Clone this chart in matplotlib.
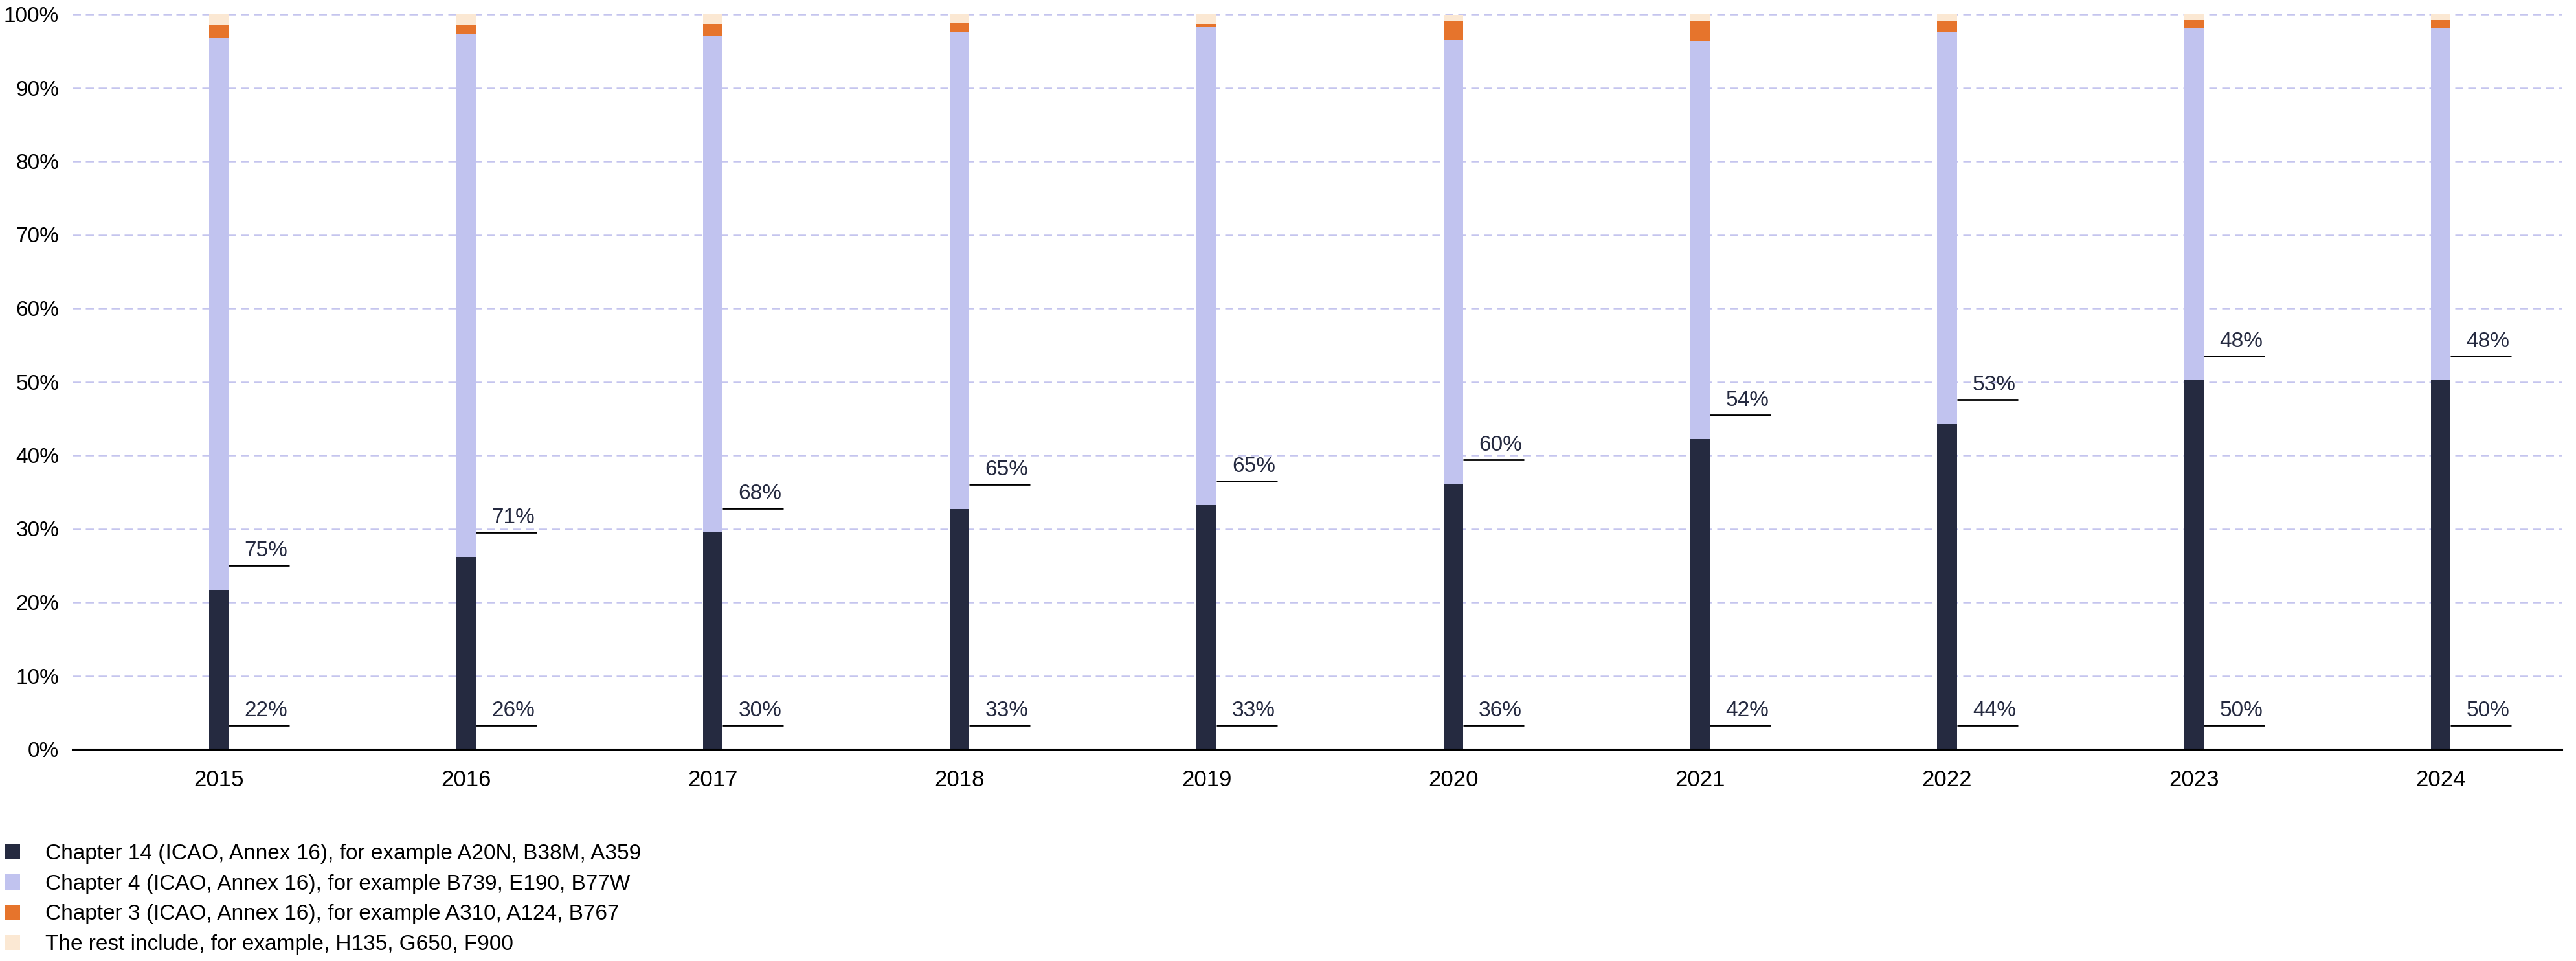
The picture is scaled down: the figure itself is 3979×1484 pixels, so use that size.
import matplotlib
matplotlib.use("Agg")
import matplotlib.pyplot as plt
from matplotlib.patches import Patch
from matplotlib import font_manager

years = ["2015", "2016", "2017", "2018", "2019", "2020", "2021", "2022", "2023", "2024"]
chapter14 = [21.7, 26.2, 29.5, 32.7, 33.2, 36.1, 42.2, 44.3, 50.2, 50.2]
chapter4 = [75.0, 71.2, 67.6, 64.9, 65.1, 60.4, 54.1, 53.2, 47.9, 47.9]
chapter3 = [1.8, 1.2, 1.6, 1.2, 0.4, 2.6, 2.8, 1.5, 1.1, 1.1]
rest = [1.5, 1.4, 1.3, 1.2, 1.3, 0.8, 0.9, 1.0, 0.8, 0.8]

series_names = [
    "Chapter 14 (ICAO, Annex 16), for example A20N, B38M, A359",
    "Chapter 4 (ICAO, Annex 16), for example B739, E190, B77W",
    "Chapter 3 (ICAO, Annex 16), for example A310, A124, B767",
    "The rest include, for example, H135, G650, F900",
]
colors = ["#252a40", "#c1c3ef", "#e6742c", "#fbe8d3"]
ink = "#252a40"

names = {f.name for f in font_manager.fontManager.ttflist}
family = [f for f in ["Liberation Sans", "DejaVu Sans"] if f in names]
plt.rcParams["font.family"] = family

W, H, DPI = 3980, 1484, 100
fig = plt.figure(figsize=(W / DPI, H / DPI), dpi=DPI)
ax = fig.add_axes([112 / W, 1 - 1157 / H, (3957 - 112) / W, (1157 - 22) / H])

x = list(range(len(years)))
bar_w = 0.079
bottom = [0.0] * len(years)
for vals, col in zip([chapter14, chapter4, chapter3, rest], colors):
    ax.bar(x, vals, width=bar_w, bottom=bottom, color=col, linewidth=0, zorder=3)
    bottom = [b + v for b, v in zip(bottom, vals)]

ax.set_xlim(-0.593, 9.49)
ax.set_ylim(0, 100)

# value labels with underline, for the two main segments
line_len = 0.2465
for i in range(len(years)):
    for base, val in [(0.0, chapter14[i]), (chapter14[i], chapter4[i])]:
        y = base + 3.3
        x0 = x[i] + bar_w / 2
        x1 = x0 + line_len
        ax.plot([x0, x1], [y, y], color="black", lw=2.0, solid_capstyle="butt", zorder=4)
        ax.annotate(f"{round(val)}%", xy=(x1, y), xytext=(-2, 5),
                    textcoords="offset points", ha="right", va="bottom",
                    fontsize=24, color=ink, zorder=5)

ax.set_yticks(range(0, 101, 10))
ax.set_yticklabels([f"{v}%" for v in range(0, 101, 10)])
ax.set_xticks(x)
ax.set_xticklabels(years)
ax.tick_params(axis="y", length=0, pad=15, labelsize=24, labelcolor="black")
ax.tick_params(axis="x", length=0, pad=22, labelsize=25, labelcolor="black")

ax.yaxis.grid(True, color="#c5c5ee", lw=1.8, dashes=(5, 3), zorder=0)
ax.set_axisbelow(True)
for side in ["top", "right", "left"]:
    ax.spines[side].set_visible(False)
ax.spines["bottom"].set_color("black")
ax.spines["bottom"].set_linewidth(2.2)
ax.spines["bottom"].set_zorder(6)

handles = [Patch(facecolor=c, edgecolor="none") for c in colors]
fig.legend(handles, series_names, loc="upper left",
           bbox_to_anchor=(8 / W, 1 - 1303 / H), frameon=False,
           fontsize=24, handlelength=0.7, handleheight=0.7,
           handletextpad=1.15, labelspacing=0.47, borderpad=0,
           borderaxespad=0)

fig.savefig("out.png", dpi=DPI)
